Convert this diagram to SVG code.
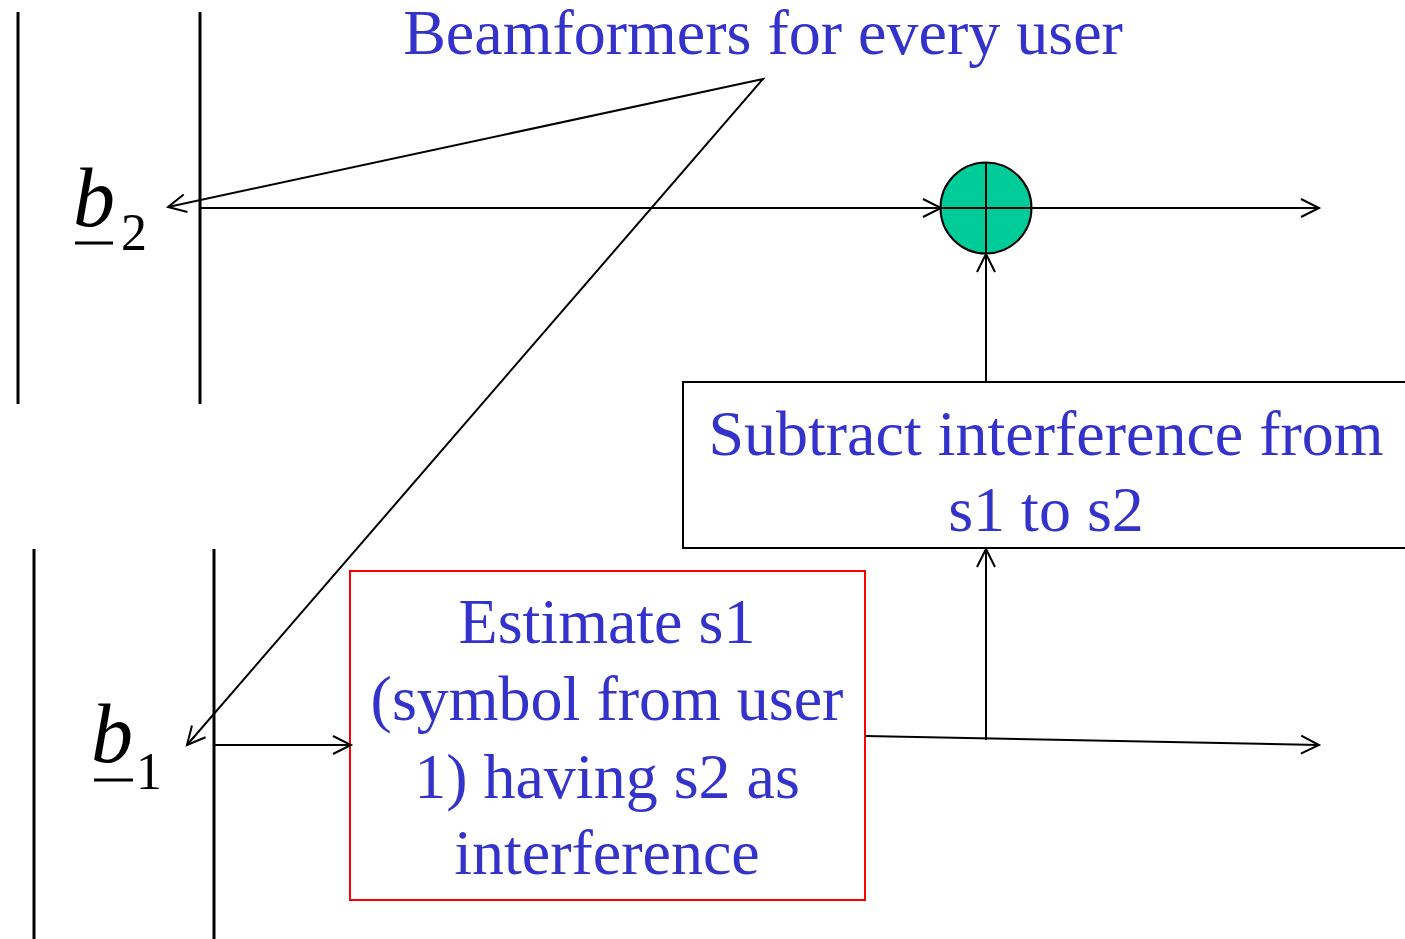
<svg xmlns="http://www.w3.org/2000/svg" width="1405" height="939" viewBox="0 0 1405 939">
<style>
.ln{stroke:#000;stroke-width:2;fill:none}
.bar{stroke:#000;stroke-width:3;fill:none}
.t{font-family:"Liberation Serif","Times New Roman",serif;font-size:64px;fill:#3333CC;text-anchor:middle}
.m{font-family:"Liberation Serif","Times New Roman",serif;fill:#000}
</style>
<defs>
<marker id="ah" viewBox="0 0 24 24" refX="21" refY="12" markerWidth="24" markerHeight="24" markerUnits="userSpaceOnUse" orient="auto-start-reverse">
<path d="M3,3 L21,12 L3,21" fill="none" stroke="#000" stroke-width="2"/>
</marker>
</defs>
<rect width="1405" height="939" fill="#fff"/>
<g id="antenna2">
<line class="bar" x1="18" y1="12" x2="18" y2="404"/>
<line class="bar" x1="200" y1="12" x2="200" y2="404"/>
<text class="m" x="73" y="226" font-size="84" font-style="italic">b</text>
<line x1="75" y1="243" x2="113" y2="243" stroke="#000" stroke-width="3"/>
<text class="m" x="121" y="250" font-size="52">2</text>
</g>
<g id="antenna1">
<line class="bar" x1="34" y1="549" x2="34" y2="939"/>
<line class="bar" x1="214" y1="549" x2="214" y2="939"/>
<text class="m" x="91" y="762" font-size="84" font-style="italic">b</text>
<line x1="94" y1="780" x2="133" y2="780" stroke="#000" stroke-width="3"/>
<text class="m" x="136" y="789" font-size="52">1</text>
</g>
<g id="label">
<text class="t" x="763" y="54">Beamformers for every user</text>
</g>
<g id="adder">
<circle cx="986" cy="208" r="45.5" fill="#00CC99" stroke="#000" stroke-width="2"/>
<line class="ln" x1="940" y1="208" x2="1032" y2="208"/>
<line class="ln" x1="986" y1="163" x2="986" y2="254"/>
</g>
<g id="subtract">
<rect x="683" y="382" width="730" height="166" fill="#fff" stroke="#000" stroke-width="2"/>
<text class="t" x="1046" y="455">Subtract interference from</text>
<text class="t" x="1046" y="531">s1 to s2</text>
</g>
<g id="estimate">
<rect x="350" y="571" width="515" height="329" fill="#fff" stroke="#FF0000" stroke-width="2"/>
<text class="t" x="607" y="643">Estimate s1</text>
<text class="t" x="607" y="720">(symbol from user</text>
<text class="t" x="607" y="798">1) having s2 as</text>
<text class="t" x="607" y="874">interference</text>
</g>
<g id="connectors">
<polyline class="ln" points="168,207 763,79 187,745" marker-start="url(#ah)" marker-end="url(#ah)"/>
<line class="ln" x1="200" y1="208" x2="941" y2="208" marker-end="url(#ah)"/>
<line class="ln" x1="1032" y1="208" x2="1319" y2="208" marker-end="url(#ah)"/>
<line class="ln" x1="986" y1="382" x2="986" y2="254" marker-end="url(#ah)"/>
<line class="ln" x1="986" y1="740" x2="986" y2="549" marker-end="url(#ah)"/>
<line class="ln" x1="865" y1="736" x2="1319" y2="745" marker-end="url(#ah)"/>
<line class="ln" x1="214" y1="745" x2="351" y2="745" marker-end="url(#ah)"/>
</g>
</svg>
